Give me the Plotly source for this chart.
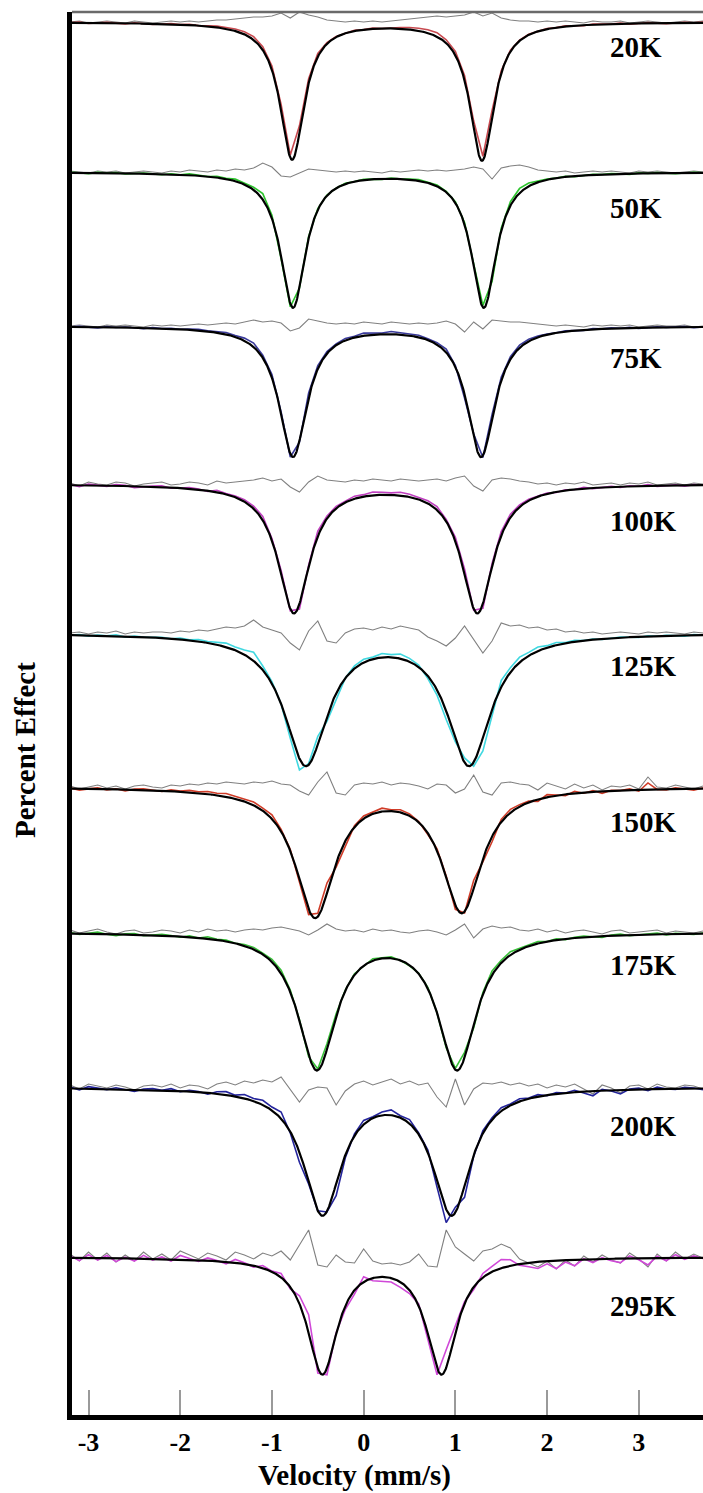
import numpy as np
import plotly.graph_objects as go

# Temperature series of Mossbauer spectra, stacked from top (20 K) to bottom (295 K)
temps = ["20K", "50K", "75K", "100K", "125K", "150K", "175K", "200K", "295K"]

# Fitted doublet parameters (mm/s for positions/widths, % effect units for depths)
line_left = [-0.78, -0.77, -0.77, -0.76, -0.63, -0.53, -0.51, -0.45, -0.45]
line_right = [1.29, 1.31, 1.28, 1.24, 1.15, 1.07, 1.02, 0.96, 0.85]
fwhm = [0.32, 0.33, 0.37, 0.42, 0.57, 0.52, 0.50, 0.50, 0.40]
depth_left = [137, 135, 130, 128, 130, 128, 135, 125, 115]
depth_right = [138, 135, 130, 128, 130, 123, 135, 125, 115]

# Vertical stacking offset (baseline) of each spectrum
offsets = [1393, 1243, 1089, 931, 782, 628, 483, 328, 158]

# Residual curves are drawn magnified by this factor
resid_gain = 1.5

# Velocity channels of the measured spectra
velocity = np.round(np.arange(-3.2, 3.7001, 0.1), 2)

# Magnified residuals (data minus fit) for each temperature, one value per channel
resid_20K = [0, 1, -1, 0, 1, 0, -1, 1, 0, -1,
             0, 1, 0, 1, 0, 1, 2, 2, 3, 4,
             5, 5, 6, 9, 4, 10, 7, 5, 2, 1,
             0, 1, 0, 1, 0, 1, 2, 3, 4, 5,
             6, 5, 6, 7, 10, 6, 9, 4, 2, 1,
             1, 0, 1, 0, 1, 0, -1, 1, 0, 0,
             1, -1, 0, 1, 0, -1, 0, 1, 0, 1]
resid_50K = [1, 0, -1, 1, 0, 1, -1, 0, 1, 0,
             -1, 1, 0, 2, 1, 0, 2, 1, 3, 2,
             4, 9, 5, -4, -5, -1, 3, 2, 1, 0,
             1, 0, 1, 0, -1, 1, 0, 1, 2, 1,
             2, 1, 2, 3, 5, 3, -7, 4, 6, 7,
             5, 2, 1, 0, 1, -1, 0, 1, 0, 1,
             0, -1, 1, 0, 1, 0, -1, 0, 1, 0]
resid_75K = [0, 1, 0, -1, 1, 0, 1, 0, -1, 1,
             0, 1, 0, 1, 2, 1, 2, 3, 2, 4,
             6, 4, 5, 3, -5, -2, 7, 5, 3, 2,
             3, 2, 4, 3, 2, 4, 3, 2, 3, 2,
             3, 5, 2, -6, 4, -3, 6, 5, 4, 4,
             3, 2, 1, 0, 1, 0, -1, 1, 0, 1,
             0, 1, -1, 0, 1, 0, 0, 1, -1, 0]
resid_100K = [1, -2, 2, 0, -1, 2, 1, -2, 0, 1,
              2, -1, 0, 2, 1, -1, 3, 1, 2, 3,
              4, 6, 3, 5, -3, -8, 2, 8, 4, 3,
              2, 4, 3, 5, 4, 3, 5, 4, 3, 4,
              5, 3, 6, 8, -2, -7, 4, 6, 5, 3,
              2, 0, 1, -1, 1, 0, 2, -1, 0, 1,
              -1, 1, 0, 2, -1, 0, 1, -1, 1, 0]
resid_125K = [0, 1, -1, 1, 0, 2, -1, 1, 0, 1,
              1, 0, 2, 1, 3, 2, 4, 6, 5, 7,
              13, 6, 3, 0, -10, -17, 2, 12, -8, -10,
              0, 4, 5, 3, 6, 4, 7, 5, 3, -4,
              -8, -13, -5, 7, -6, -20, -8, 10, 7, 8,
              5, 6, 3, 4, 1, 2, 0, 1, -1, 0,
              1, 0, -1, 1, 0, 1, 0, -1, 1, 0]
resid_150K = [1, -2, 0, 2, -1, 1, -2, 1, 2, 0,
              -1, 2, 1, 3, 2, 4, 3, 5, 4, 3,
              5, 4, 6, 3, 2, -4, -8, 5, 15, -6,
              -8, 2, 4, 3, 5, 2, 4, 3, 1, -2,
              3, 2, -6, -2, 12, -5, -8, 4, 5, 3,
              2, -3, 4, 1, -2, 3, -1, 2, -3, 1,
              0, 2, -2, 10, 0, -1, 2, 0, -2, 1]
resid_175K = [2, -1, 1, 3, 0, -2, 1, 2, -1, 0,
              2, 1, -1, 2, 0, 3, 1, 2, 0, 2,
              3, 2, 4, 5, 3, 1, -3, 2, 8, 3,
              1, 2, 0, 3, 1, 2, 0, -1, 1, 2,
              0, -3, 2, 8, -6, 3, 6, 4, 5, 2,
              1, 3, 0, 2, -1, 1, 2, 0, -2, 1,
              2, -1, 0, 1, 2, -1, 1, 0, -1, 1]
resid_200K = [2, -2, 3, 1, -1, 2, 0, -3, 1, 2,
              0, 3, -1, 2, 1, -2, 3, 5, 2, 6,
              4, 7, 5, 10, -2, -15, -3, 0, -1, -18,
              -4, 3, 6, 2, 5, 8, 3, 6, 2, 4,
              -10, -20, 8, -18, -2, 4, 3, 5, 2, 4,
              1, 3, -1, 2, 0, 3, -2, -7, 2, -1,
              -6, 1, 2, -2, 3, 0, -1, 2, 1, -2]
resid_295K = [3, -4, 5, -3, 4, -5, 2, -4, 5, -2,
              3, -3, 6, 2, -2, 4, 1, -3, 5, 2,
              -2, 4, 1, 6, -3, 12, 27, -8, -10, 2,
              -5, -6, 8, -4, -7, -6, -8, -5, 3, -9,
              -10, 27, 10, 3, -4, 6, 8, 13, 9, -2,
              -6, -10, -4, -12, -3, -9, 1, -5, 2, -3,
              -6, 4, -2, -10, 3, -4, 5, -2, 3, -1]

residuals = [resid_20K, resid_50K, resid_75K, resid_100K, resid_125K,
             resid_150K, resid_175K, resid_200K, resid_295K]

data_colors = ["#c84a50", "#2ec42e", "#3a3a9a", "#c040c0", "#40d8e0",
               "#d03c28", "#38c038", "#24249c", "#d048d8"]

v_fine = np.linspace(-3.2, 3.7, 1381)


def doublet(v, base, p1, p2, w, d1, d2):
    """Lorentzian quadrupole doublet hanging below a flat baseline."""
    h = w / 2.0
    return (base
            - d1 / (1.0 + ((v - p1) / h) ** 2)
            - d2 / (1.0 + ((v - p2) / h) ** 2))


fig = go.Figure()

for i, t in enumerate(temps):
    base = offsets[i]
    r = np.array(residuals[i], dtype=float)
    args = (base, line_left[i], line_right[i], fwhm[i], depth_left[i], depth_right[i])
    fit_channels = doublet(velocity, *args)
    fit_smooth = doublet(v_fine, *args)

    # magnified residual trace drawn on the spectrum baseline
    fig.add_trace(go.Scatter(x=velocity, y=base + r, mode="lines",
                             line=dict(color="#808080", width=1.1),
                             hoverinfo="skip"))
    # measured spectrum
    fig.add_trace(go.Scatter(x=velocity, y=fit_channels + r / resid_gain, mode="lines",
                             line=dict(color=data_colors[i], width=1.6),
                             name=t))
    # fitted curve
    fig.add_trace(go.Scatter(x=v_fine, y=fit_smooth, mode="lines",
                             line=dict(color="black", width=2.2),
                             hoverinfo="skip"))

label_y = [1368, 1207, 1057, 894, 749, 593, 450, 289, 109]
annotations = []
for t, ly in zip(temps, label_y):
    annotations.append(dict(x=2.66, y=ly, xref="x", yref="y", text=t,
                            showarrow=False, xanchor="left", yanchor="middle",
                            font=dict(family="Liberation Serif", size=29,
                                      color="black", weight="bold")))

annotations.append(dict(x=-0.10, y=-0.0428, xref="x", yref="paper",
                        text="Velocity (mm/s)", showarrow=False,
                        xanchor="center", yanchor="middle",
                        font=dict(family="Liberation Serif", size=29,
                                  color="black", weight="bold")))
annotations.append(dict(x=-0.0745, y=0.474, xref="paper", yref="paper",
                        text="Percent Effect", showarrow=False, textangle=-90,
                        xanchor="center", yanchor="middle",
                        font=dict(family="Liberation Serif", size=29,
                                  color="black", weight="bold")))

tick_vals = [-3, -2, -1, 0, 1, 2, 3]
tick_text = ["-3", "-2", "-1", "0", "1", "2", "3"]

fig.update_layout(
    width=703, height=1493,
    margin=dict(l=72, r=0, t=12, b=78),
    paper_bgcolor="white", plot_bgcolor="white",
    showlegend=False,
    annotations=annotations,
    shapes=[dict(type="line", xref="paper", yref="paper", x0=0, x1=1, y0=1, y1=1,
                 line=dict(color="#6a6a6a", width=2.5))],
)
fig.update_xaxes(range=[-3.18, 3.70], tickvals=tick_vals, ticktext=tick_text,
                 ticks="inside", ticklen=25, tickwidth=2, tickcolor="#9a9a9a",
                 showline=True, linecolor="black", linewidth=5,
                 showgrid=False, zeroline=False,
                 tickfont=dict(family="Liberation Serif", size=26, color="black",
                               weight="bold"))
fig.update_yaxes(range=[0, 1403], showticklabels=False, ticks="",
                 showline=True, linecolor="black", linewidth=5,
                 showgrid=False, zeroline=False)

fig.write_html("out.html")
